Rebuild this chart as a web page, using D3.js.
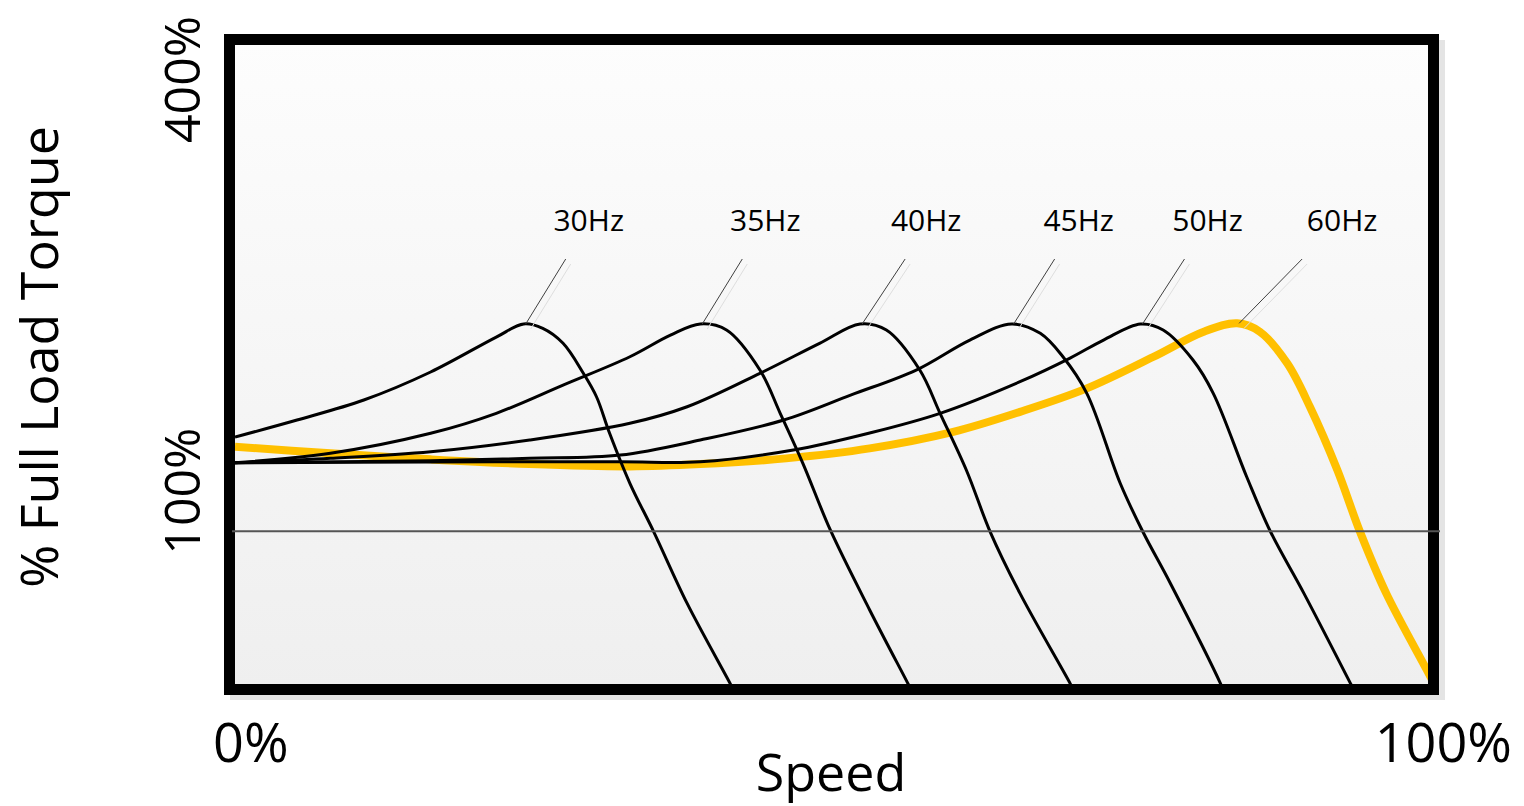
<!DOCTYPE html>
<html><head><meta charset="utf-8">
<script src="https://cdn.jsdelivr.net/npm/d3@7"></script>
<style>html,body{margin:0;padding:0;background:#fff;overflow:hidden}</style>
</head><body>
<svg id="chart" width="1524" height="806"></svg>
<script>
// ---- data: [speed %, torque % of full load] ----
const seriesNames = ["30Hz", "35Hz", "40Hz", "45Hz", "50Hz", "60Hz"];
const hz30 = [[0,157.4],[5.2,167.8],[10.8,180.0],[16.4,197.1],[21.9,218.4],[24.2,226.4],[25.8,223.7],[27.5,214.6],[29.2,196.3],[30.3,182.0],[31.4,159.7],[33.1,129.2],[35.1,99.6],[37.9,55.9],[41.5,7.1],[42.0,0]];
const hz35 = [[0,141.7],[8.0,147.5],[16.4,159.7],[21.9,171.9],[27.5,189.1],[33.1,206.4],[36.5,219.6],[39.0,226.4],[41.2,222.7],[44.0,198.3],[45.7,171.9],[47.6,141.4],[49.9,100.7],[53.2,51.9],[56.4,7.1],[56.9,0]];
const hz40 = [[0,141.7],[8.0,144.4],[16.4,148.4],[24.7,155.6],[33.1,165.8],[37.9,175.9],[44.0,196.3],[49.0,214.6],[52.4,226.4],[54.6,222.7],[57.4,198.3],[59.1,171.9],[61.3,137.3],[63.3,99.6],[65.8,62.0],[70.0,7.1],[70.5,0]];
const hz45 = [[0,141.7],[16.4,143.0],[24.7,144.4],[32.3,146.4],[39.0,155.6],[46.0,167.8],[51.6,183.0],[57.1,198.3],[61.6,216.6],[65.1,226.4],[67.5,220.7],[69.4,206.4],[71.4,184.1],[74.2,129.2],[76.1,99.6],[78.4,68.2],[82.6,7.1],[83.0,0]];
const hz50 = [[0,141.7],[16.4,142.2],[32.3,142.3],[39.0,142.3],[46.8,149.5],[53.2,159.9],[59.1,171.9],[65.8,191.2],[70.0,205.6],[72.8,216.6],[75.9,226.4],[77.8,222.7],[80.3,204.4],[82.0,184.1],[84.8,133.2],[86.8,99.6],[89.6,62.0],[93.5,7.1],[94.0,0]];
const hz60 = [[0,151.5],[8.0,147.5],[16.4,143.8],[24.7,140.9],[33.1,139.5],[39.0,140.9],[46.2,144.4],[53.2,150.5],[60.2,160.6],[65.8,172.8],[71.4,187.1],[77.0,206.4],[81.2,221.7],[84.0,226.8],[85.9,221.7],[88.2,202.4],[90.1,175.9],[92.4,137.3],[94.3,99.6],[96.5,62.0],[99.9,15.3],[100.5,7.0]];
const seriesData = [hz30, hz35, hz40, hz45, hz50, hz60];
const yTickValues = [100, 400];
const yTickLabels = ["100%", "400%"];
const xTickValues = [0, 100];
const xTickLabels = ["0%", "100%"];
const referenceTorque = 100;
const xTitle = "Speed";
const yTitle = "% Full Load Torque";

// ---- layout / style ----
const seriesColors = ["#000", "#000", "#000", "#000", "#000", "#FFC000"];
const seriesWidths = [3, 3, 3, 3, 3, 8];
const leaderDx = [42, 42, 45, 43, 44, 65];
const labelDx = [23, 23, 21, 24, 23, 40];
const leaderTopY = 259, labelBaseY = 231;
const yLabelDy = [-40, 40];
const font = "'Open Sans', 'Liberation Sans', sans-serif";

const svg = d3.select("#chart");
const inner = {x0: 235, y0: 45, x1: 1428, y1: 684};
const x = d3.scaleLinear().domain([0, 100]).range([inner.x0, inner.x1]);
const y = d3.scaleLinear().domain([0, 400]).range([695, 39.5]);

const defs = svg.append("defs");
const grad = defs.append("linearGradient").attr("id", "bg").attr("x1", 0).attr("y1", 0).attr("x2", 0).attr("y2", 1);
grad.append("stop").attr("offset", "0%").attr("stop-color", "#fdfdfd");
grad.append("stop").attr("offset", "100%").attr("stop-color", "#efefef");
defs.append("clipPath").attr("id", "clip").append("rect")
  .attr("x", inner.x0).attr("y", inner.y0).attr("width", inner.x1 - inner.x0).attr("height", inner.y1 - inner.y0);

// shadow
svg.append("rect").attr("x", 230).attr("y", 40).attr("width", 1215).attr("height", 660).attr("fill", "#e4e4e4");
// background
svg.append("rect").attr("x", 229.5).attr("y", 39.5).attr("width", 1204).attr("height", 650).attr("fill", "url(#bg)");

// curves
const line = d3.line().x(d => x(d[0])).y(d => y(d[1])).curve(d3.curveCatmullRom.alpha(0.5));
const order = [5, 0, 1, 2, 3, 4];
svg.append("g").attr("clip-path", "url(#clip)").selectAll("path").data(order).join("path")
  .attr("d", i => line(seriesData[i]))
  .attr("fill", "none")
  .attr("stroke", i => seriesColors[i])
  .attr("stroke-width", i => seriesWidths[i])
  .attr("stroke-linejoin", "round");

// frame
svg.append("rect").attr("x", 229.5).attr("y", 39.5).attr("width", 1204).attr("height", 650)
  .attr("fill", "none").attr("stroke", "#000").attr("stroke-width", 11);

// reference line
svg.append("line").attr("x1", 232).attr("x2", 1440)
  .attr("y1", y(referenceTorque)).attr("y2", y(referenceTorque))
  .attr("stroke", "#555").attr("stroke-width", 2);

// leaders + labels
const ann = svg.append("g");
seriesData.forEach((s, i) => {
  const pk = d3.greatest(s, d => d[1]);
  const px = x(pk[0]), py = y(pk[1]);
  const tx = px + leaderDx[i];
  ann.append("line").attr("x1", px + 7).attr("y1", py + 5).attr("x2", tx + 5).attr("y2", leaderTopY + 5)
    .attr("stroke", "#dedede").attr("stroke-width", 1);
  ann.append("line").attr("x1", px + 2).attr("y1", py).attr("x2", tx).attr("y2", leaderTopY)
    .attr("stroke", "#404040").attr("stroke-width", 1);
  ann.append("text").attr("x", tx + labelDx[i]).attr("y", labelBaseY)
    .attr("text-anchor", "middle").attr("font-family", font).attr("font-size", 30)
    .attr("fill", "#000").text(seriesNames[i]);
});

// y tick labels (rotated)
yTickValues.forEach((v, i) => {
  svg.append("text").attr("transform", `translate(200,${y(v) + yLabelDy[i]}) rotate(-90)`)
    .attr("text-anchor", "middle").attr("font-family", font).attr("font-size", 50)
    .attr("fill", "#000").text(yTickLabels[i]);
});
// y title
svg.append("text").attr("transform", `translate(58,357) rotate(-90)`)
  .attr("text-anchor", "middle").attr("font-family", font).attr("font-size", 52)
  .attr("fill", "#000").text(yTitle);

// x tick labels
svg.append("text").attr("x", x(xTickValues[0]) - 22).attr("y", 762).attr("text-anchor", "start")
  .attr("font-family", font).attr("font-size", 54).attr("fill", "#000").text(xTickLabels[0]);
svg.append("text").attr("x", x(xTickValues[1]) + 84).attr("y", 762).attr("text-anchor", "end")
  .attr("font-family", font).attr("font-size", 54).attr("fill", "#000").text(xTickLabels[1]);
// x title
svg.append("text").attr("x", 831).attr("y", 791).attr("text-anchor", "middle")
  .attr("font-family", font).attr("font-size", 52).attr("fill", "#000").text(xTitle);
</script>
</body></html>
